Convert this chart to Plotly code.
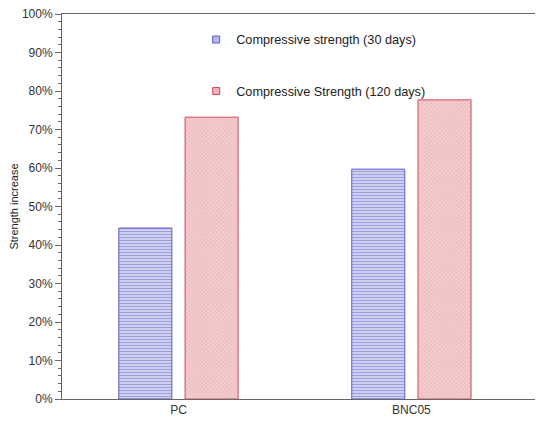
import plotly.graph_objects as go

categories = ["PC", "BNC05"]
strength_30 = [0.444, 0.597]
strength_120 = [0.732, 0.777]
series_names = ["Compressive strength (30 days)", "Compressive Strength (120 days)"]
ytick_vals = [0, 0.1, 0.2, 0.3, 0.4, 0.5, 0.6, 0.7, 0.8, 0.9, 1.0]
ytick_text = ["0%", "10%", "20%", "30%", "40%", "50%", "60%", "70%", "80%", "90%", "100%"]

blue_fill, blue_line, blue_pat = "#d4d4f2", "#5a5ac8", "#6a6acc"
red_fill, red_line, red_pat = "#f4cdd0", "#d04a58", "#dc8890"

fig = go.Figure()
fig.add_trace(go.Bar(
    x=categories, y=strength_30, name=series_names[0], showlegend=False,
    marker=dict(color=blue_fill, line=dict(color=blue_line, width=1),
                pattern=dict(shape="-", fgcolor=blue_pat, size=3, solidity=0.4, fillmode="overlay")),
))
fig.add_trace(go.Bar(
    x=categories, y=strength_120, name=series_names[1], showlegend=False,
    marker=dict(color=red_fill, line=dict(color=red_line, width=1),
                pattern=dict(shape="x", fgcolor=red_pat, size=3, solidity=0.3, fillmode="overlay")),
))
# legend entries with small square swatches
fig.add_trace(go.Scatter(
    x=[None], y=[None], mode="markers", name=series_names[0], legendgroup="a",
    marker=dict(symbol="square", size=7, color="#b8b8ea", line=dict(color=blue_line, width=1)),
))
fig.add_trace(go.Scatter(
    x=[None], y=[None], mode="markers", name=series_names[1], legendgroup="b",
    marker=dict(symbol="square", size=7, color="#f0b4ba", line=dict(color=red_line, width=1)),
))

fig.update_layout(
    width=535, height=415,
    margin=dict(l=54, r=0, t=6, b=24, autoexpand=False),
    paper_bgcolor="white", plot_bgcolor="white",
    barmode="group", bargap=0.431, bargroupgap=0.2,
    font=dict(family="Liberation Sans, Arial, sans-serif", size=12, color="#333333"),
    showlegend=True,
    legend=dict(x=0.279, y=0.972, xanchor="left", yanchor="top",
                bgcolor="rgba(0,0,0,0)", font=dict(size=12.7, color="#222222"),
                tracegroupgap=32, itemwidth=30),
    xaxis=dict(range=[-0.5, 1.565], showline=True, linecolor="#666666", linewidth=1,
               mirror=True, ticks="", showgrid=False, zeroline=False,
               tickfont=dict(size=12, color="#333333")),
    yaxis=dict(range=[0, 1.0], showline=True, linecolor="#666666", linewidth=1,
               tickvals=ytick_vals, ticktext=ytick_text, ticks="outside", ticklen=6,
               tickcolor="#666666", showgrid=False, zeroline=False, ticklabeloverflow="allow",
               tickfont=dict(size=12, color="#333333"),
               minor=dict(dtick=0.02, ticks="outside", ticklen=3, tickcolor="#666666", showgrid=False),
               title=dict(text="Strength increase", font=dict(size=11, color="#222222"), standoff=6)),
)

fig.write_html("out.html")
